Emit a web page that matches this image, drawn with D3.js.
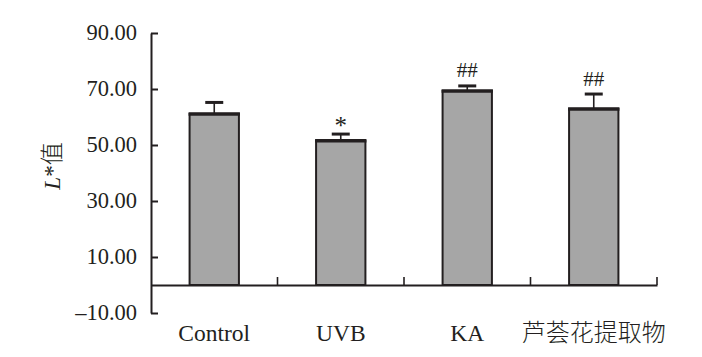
<!DOCTYPE html>
<html><head><meta charset="utf-8">
<script src="https://cdn.jsdelivr.net/npm/d3@7"></script>
<style>body{margin:0;background:#fff}</style>
</head><body>
<svg id="c" width="702" height="357"></svg>
<script>
const categories = ["Control", "UVB", "KA", "芦荟花提取物"];
const values = [61.1, 51.5, 69.3, 62.9];
const errors = [4.1, 2.4, 1.8, 5.3];
const marks = ["", "*", "##", "##"];
const yTicks = [-10, 10, 30, 50, 70, 90];

const svg = d3.select("#c");
const mLeft = 151, mRight = 657, mTop = 33, mBottom = 313;
const y = d3.scaleLinear().domain([-10, 90]).range([mBottom, mTop]);
const x = d3.scaleBand().domain(categories).range([mLeft, mRight]).paddingInner(0.61).paddingOuter(0.305);
const ink = "#231f20";
const serif = '"Liberation Serif"';
const cjk = '"Noto Sans CJK SC"';

// y axis
const yAxis = svg.append("g").attr("transform", `translate(${mLeft},0)`)
  .call(d3.axisRight(y).tickValues(yTicks).tickSize(7).tickSizeOuter(0).tickFormat(d => ""));
yAxis.select(".domain").attr("stroke", ink).attr("stroke-width", 2);
yAxis.selectAll(".tick line").attr("stroke", ink).attr("stroke-width", 2);
svg.append("g").selectAll("text").data(yTicks).join("text")
  .style("font-family", serif)
  .attr("x", mLeft - 14).attr("y", d => y(d)).attr("dy", "0.33em")
  .attr("text-anchor", "end").style("font-size", "22.5px").attr("fill", ink)
  .text(d => (d < 0 ? "\u2013" + Math.abs(d).toFixed(2) : d.toFixed(2)));

// bars
const bw = x.bandwidth();
svg.append("g").selectAll("rect").data(categories).join("rect")
  .attr("x", d => x(d)).attr("y", (d, i) => y(values[i]))
  .attr("width", bw).attr("height", (d, i) => y(0) - y(values[i]))
  .attr("fill", "#a6a6a6").attr("stroke", ink).attr("stroke-width", 2);
// thick top edge
svg.append("g").selectAll("line").data(categories).join("line")
  .attr("x1", d => x(d) - 1).attr("x2", d => x(d) + bw + 1)
  .attr("y1", (d, i) => y(values[i])).attr("y2", (d, i) => y(values[i]))
  .attr("stroke", ink).attr("stroke-width", 3.5);

// error bars
const eg = svg.append("g");
categories.forEach((c, i) => {
  const cx = x(c) + bw / 2;
  eg.append("line").attr("x1", cx).attr("x2", cx)
    .attr("y1", y(values[i])).attr("y2", y(values[i] + errors[i]))
    .attr("stroke", ink).attr("stroke-width", 1.6);
  eg.append("line").attr("x1", cx - 9).attr("x2", cx + 9)
    .attr("y1", y(values[i] + errors[i])).attr("y2", y(values[i] + errors[i]))
    .attr("stroke", ink).attr("stroke-width", 3);
  if (marks[i]) {
    const star = marks[i] === "*";
    eg.append("text").style("font-family", serif).attr("x", cx)
      .attr("y", y(values[i] + errors[i]) - (star ? 0 : 8.5))
      .attr("text-anchor", "middle")
      .style("font-size", star ? "25px" : "21px").attr("fill", ink)
      .text(marks[i]);
  }
});

// x axis at zero
const xAxis = svg.append("g").attr("transform", `translate(0,${y(0)})`)
  .call(d3.axisTop(x).tickSize(0).tickSizeOuter(0).tickFormat(""));
xAxis.select(".domain").attr("stroke", ink).attr("stroke-width", 2);
const bounds = categories.map(c => x(c) + bw / 2 + x.step() / 2);
svg.append("g").selectAll("line").data(bounds).join("line")
  .attr("x1", d => d).attr("x2", d => d).attr("y1", y(0)).attr("y2", y(0) - 8)
  .attr("stroke", ink).attr("stroke-width", 1.6);

// category labels
svg.append("g").selectAll("text").data(categories).join("text")
  .attr("x", d => x(d) + bw / 2).attr("y", 341)
  .attr("text-anchor", "middle").attr("fill", ink)
  .style("font-size", (d, i) => i === 3 ? "24px" : "23.5px")
  .style("font-family", (d, i) => i === 3 ? cjk : serif)
  .style("font-weight", (d, i) => i === 3 ? 300 : 400)
  .text(d => d);

// y title
const t = svg.append("text").style("font-family", serif).attr("transform", "translate(60,166) rotate(-90)")
  .attr("text-anchor", "middle").style("font-size", "23px").attr("fill", ink);
t.append("tspan").style("font-style", "italic").text("L");
t.append("tspan").text("*");
t.append("tspan").style("font-family", cjk).style("font-weight", 300).text("值");
</script>
</body></html>
